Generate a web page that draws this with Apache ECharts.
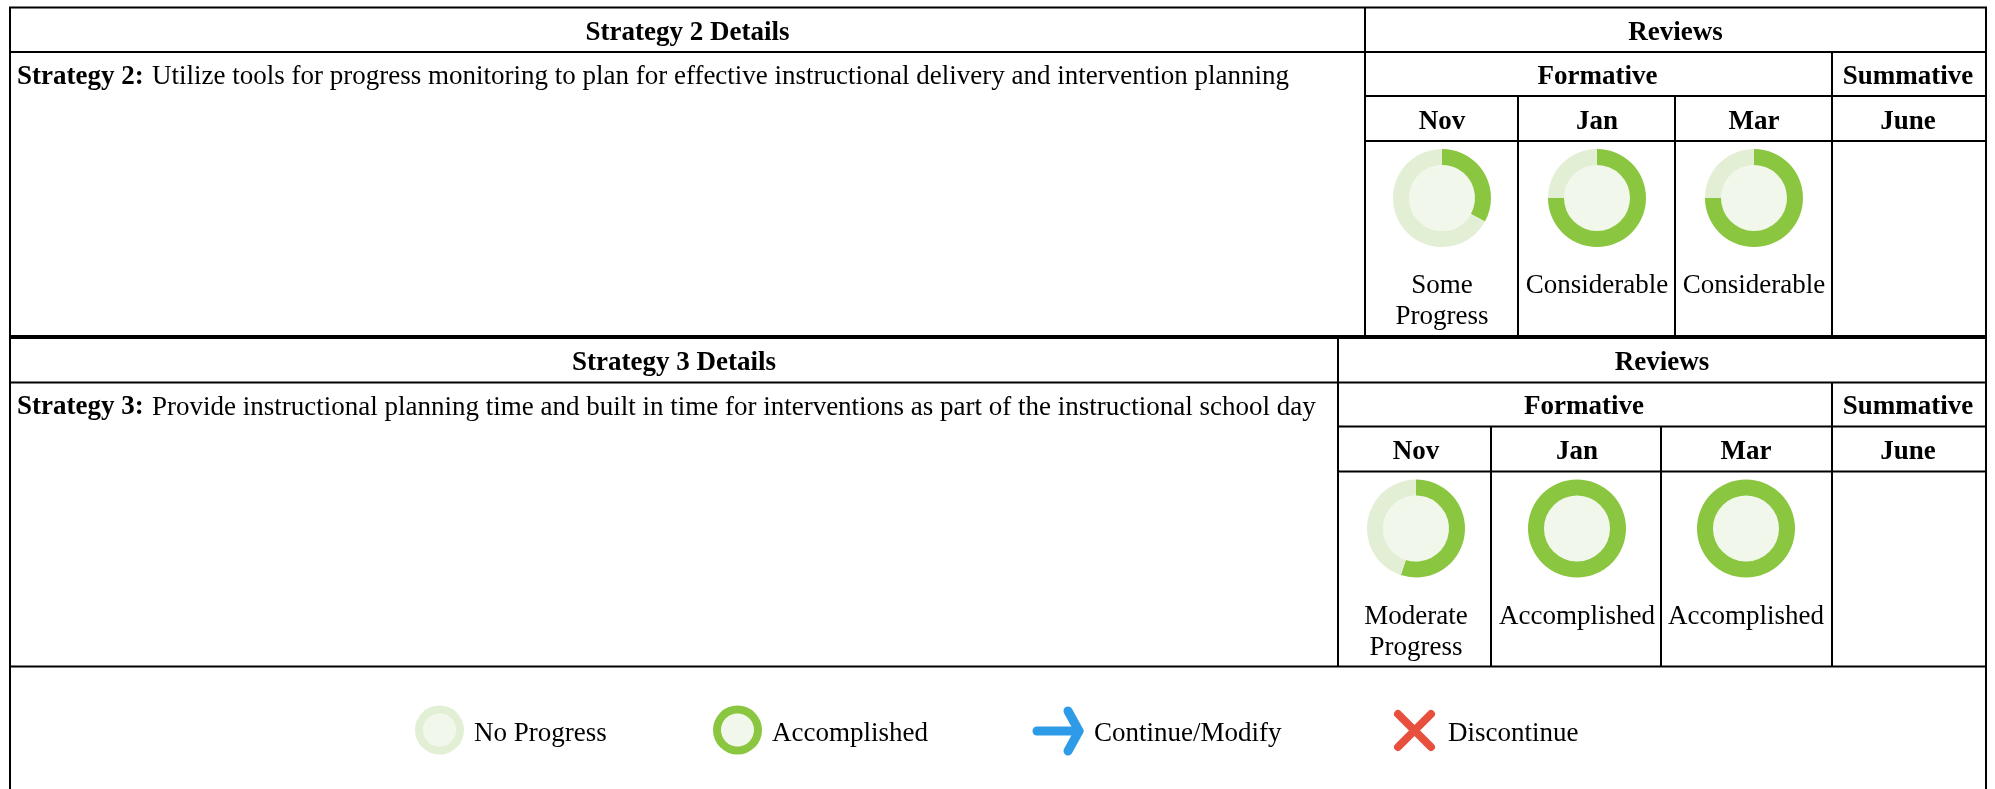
<!DOCTYPE html>
<html lang="en">
<head>
    <meta charset="UTF-8">
    <title>Strategy Reviews</title>
    <style>
        html, body { margin: 0; padding: 0; background: #fff; }
        #main { width: 1995px; height: 789px; }
    </style>
</head>
<body>
<div id="main"></div>
<script src="https://cdn.jsdelivr.net/npm/echarts@6/dist/echarts.min.js"></script>
<script>
    // data
    var strategyTitles = ['Strategy 2 Details', 'Strategy 3 Details'];
    var strategyLeads = ['Strategy 2:', 'Strategy 3:'];
    var strategyTexts = [
        'Utilize tools for progress monitoring to plan for effective instructional delivery and intervention planning',
        'Provide instructional planning time and built in time for interventions as part of the instructional school day'
    ];
    var months = ['Nov', 'Jan', 'Mar'];
    var lastMonth = 'June';
    var strategy2Percent = [33, 75, 75];
    var strategy3Percent = [55, 100, 100];
    var strategy2Labels = [['Some', 'Progress'], ['Considerable'], ['Considerable']];
    var strategy3Labels = [['Moderate', 'Progress'], ['Accomplished'], ['Accomplished']];
    var legendLabels = ['No Progress', 'Accomplished', 'Continue/Modify', 'Discontinue'];
    var legendPercent = [0, 100];

    var GREEN = '#8AC63F', PALE = '#E2EFD5', CORE = '#F1F7EB';
    var FONT = '"Liberation Serif", "Times New Roman", serif';
    var FONT_SIZE = 27;
    var LEFT = 10, RIGHT = 1986;

    var graphics = [];
    var series = [];

    function line(x1, y1, x2, y2, width) {
        graphics.push({
            type: 'line', silent: true,
            shape: {x1: x1, y1: y1, x2: x2, y2: y2},
            style: {stroke: '#000', lineWidth: width || 2}
        });
    }

    function label(text, x, y, bold, align) {
        graphics.push({
            type: 'text', silent: true, x: x, y: y,
            style: {
                text: text, fill: '#000', font: (bold ? 'bold ' : '') + FONT_SIZE + 'px ' + FONT,
                align: align || 'center', verticalAlign: 'middle'
            }
        });
    }

    // one ring: core disk + done/remaining slices
    function donut(cx, cy, outer, inner, percent) {
        series.push({
            type: 'pie', silent: true, animation: false, radius: [0, inner], center: [cx, cy],
            label: {show: false}, labelLine: {show: false},
            data: [{value: 1, itemStyle: {color: CORE}}]
        });
        series.push({
            type: 'pie', silent: true, animation: false, radius: [inner, outer], center: [cx, cy],
            startAngle: 90, clockwise: true, stillShowZeroSum: true,
            label: {show: false}, labelLine: {show: false},
            data: [
                {value: percent, itemStyle: {color: GREEN}},
                {value: 100 - percent, itemStyle: {color: PALE}}
            ]
        });
    }

    // one strategy block of the table
    function block(idx, top, bottom, edges, centers, percents, labels) {
        var rows = [top, top + 45, top + 89, top + 134];
        var textY = [top + 26, top + 70, top + 115];
        var reviewLeft = edges[0];

        line(reviewLeft, top, reviewLeft, bottom);
        line(LEFT, rows[1], RIGHT, rows[1]);
        line(reviewLeft, rows[2], RIGHT, rows[2]);
        line(reviewLeft, rows[3], RIGHT, rows[3]);
        line(edges[3], rows[1], edges[3], bottom);
        line(edges[1], rows[2], edges[1], bottom);
        line(edges[2], rows[2], edges[2], bottom);

        label(strategyTitles[idx], (LEFT + reviewLeft) / 2, textY[0], true);
        label('Reviews', (reviewLeft + RIGHT) / 2, textY[0], true);
        label('Formative', (reviewLeft + edges[3]) / 2 - 1, textY[1], true);
        label('Summative', (edges[3] + RIGHT) / 2 - 1, textY[1], true);
        label(lastMonth, (edges[3] + RIGHT) / 2 - 1, textY[2], true);

        label(strategyLeads[idx], 17, textY[1], true, 'left');
        label(strategyTexts[idx], 152, textY[1], false, 'left');

        for (var i = 0; i < months.length; i++) {
            label(months[i], centers[i], textY[2], true);
            donut(centers[i], top + 191, 49, 33, percents[i]);
            for (var j = 0; j < labels[i].length; j++) {
                label(labels[i][j], centers[i], top + 279 + j * 31, false);
            }
        }
    }

    // outer frame
    line(LEFT - 1, 7.5, RIGHT + 1, 7.5);
    line(LEFT, 7, LEFT, 789);
    line(RIGHT, 7, RIGHT, 789);
    line(LEFT, 337, RIGHT, 337, 4);
    line(LEFT, 666.5, RIGHT, 666.5, 2);

    block(0, 7, 337, [1365, 1518, 1675, 1832], [1442, 1597, 1754], strategy2Percent, strategy2Labels);
    block(1, 337.5, 666, [1338, 1491, 1661, 1832], [1416, 1577, 1746], strategy3Percent, strategy3Labels);

    // legend row
    donut(439.5, 730, 24.5, 16.5, legendPercent[0]);
    donut(737.5, 730, 24.5, 16.5, legendPercent[1]);
    label(legendLabels[0], 474, 734, false, 'left');
    label(legendLabels[1], 772, 734, false, 'left');
    label(legendLabels[2], 1094, 734, false, 'left');
    label(legendLabels[3], 1448, 734, false, 'left');

    var arrowStyle = {stroke: '#2D9BE8', lineWidth: 9, lineCap: 'round', lineJoin: 'round', fill: null};
    var crossStyle = {stroke: '#E8503E', lineWidth: 8, lineCap: 'round', fill: null};
    graphics.push({type: 'polyline', silent: true, shape: {points: [[1037, 731], [1079, 731]]}, style: arrowStyle});
    graphics.push({type: 'polyline', silent: true, shape: {points: [[1068, 711], [1079, 731], [1068, 751]]}, style: arrowStyle});
    graphics.push({type: 'line', silent: true, shape: {x1: 1398, y1: 714, x2: 1431, y2: 747}, style: crossStyle});
    graphics.push({type: 'line', silent: true, shape: {x1: 1431, y1: 714, x2: 1398, y2: 747}, style: crossStyle});

    var chart = echarts.init(document.getElementById('main'), null, {renderer: 'canvas'});
    chart.setOption({
        animation: false,
        backgroundColor: '#fff',
        tooltip: {show: false},
        series: series,
        graphic: {elements: graphics}
    });
</script>
</body>
</html>
